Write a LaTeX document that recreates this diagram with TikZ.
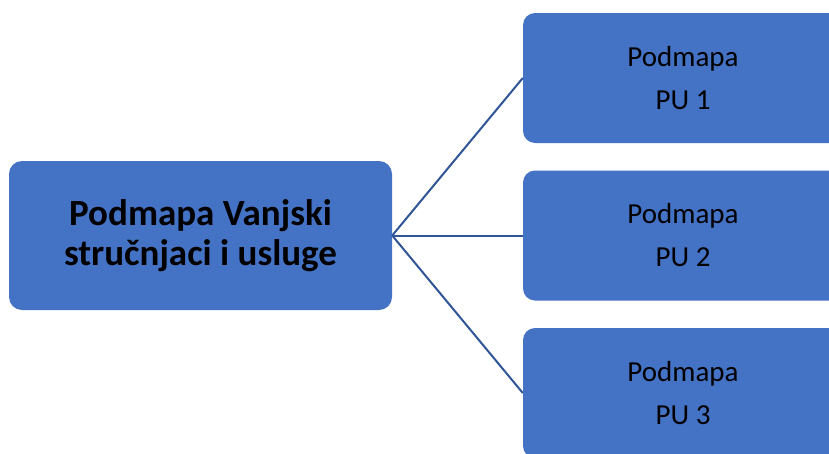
\documentclass[tikz,border=0pt]{standalone}
\usepackage{fontspec}
\setmainfont{Carlito}
\definecolor{boxblue}{HTML}{4472C4}
\definecolor{linkblue}{HTML}{2F5597}
\tikzset{
  mainbox/.style={draw=none, fill=boxblue, rounded corners=13pt, minimum width=383pt, minimum height=149pt, inner sep=0pt, align=center, font=\fontsize{37}{40}\selectfont\bfseries},
  subbox/.style={draw=none, fill=boxblue, rounded corners=12pt, minimum width=320pt, minimum height=130pt, inner sep=0pt, align=center, font=\fontsize{29}{43}\selectfont},
  link/.style={draw=linkblue, line width=2pt}
}
\begin{document}
\begin{tikzpicture}[x=1pt,y=-1pt]
\useasboundingbox (0,0) rectangle (829,453);
\clip (0,0) rectangle (829,453);
\node[mainbox] (main) at (200.5,235.5) {Podmapa Vanjski\\stručnjaci i usluge};
\node[subbox] (s1) at (683,78) {Podmapa\\PU 1};
\node[subbox] (s2) at (683,235.5) {Podmapa\\PU 2};
\node[subbox] (s3) at (683,393) {Podmapa\\PU 3};
\draw[link] (main.east) -- (s1.west);
\draw[link] (main.east) -- (s2.west);
\draw[link] (main.east) -- (s3.west);
\end{tikzpicture}
\end{document}
